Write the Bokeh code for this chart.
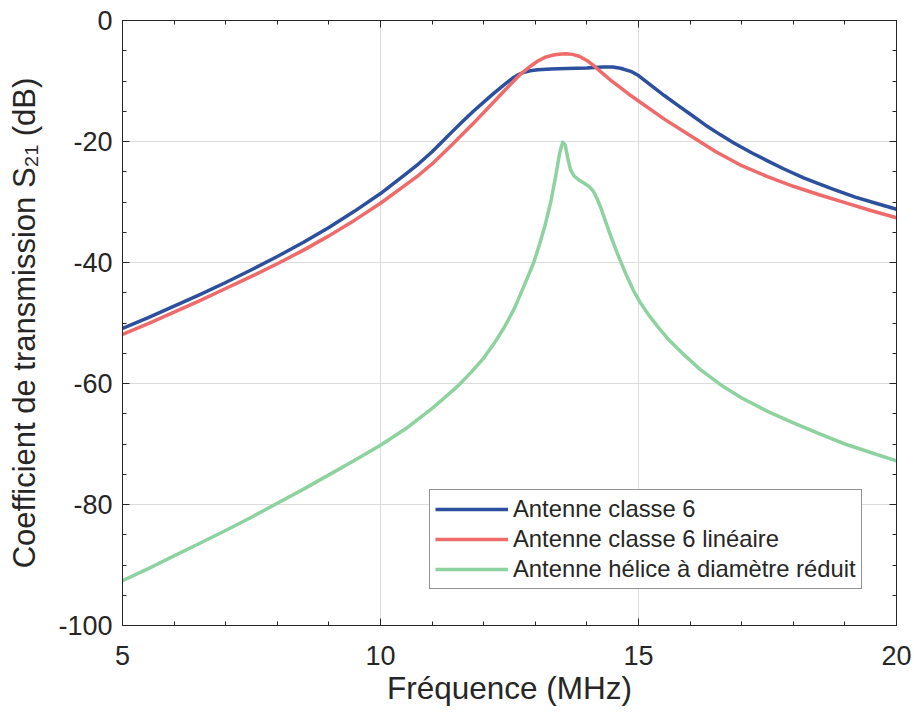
from bokeh.plotting import figure
from bokeh.models import (Range1d, FixedTicker, LinearAxis, Legend, LegendItem)
from bokeh.embed import file_html
from bokeh.resources import INLINE

# ---- data ----
x_blue = [5.0, 5.5, 6.0, 6.5, 7.0, 7.5, 8.0, 8.5, 9.0, 9.5, 10.0, 10.5, 10.75, 11.0,
          11.2, 11.41, 11.6, 11.8, 12.0, 12.2, 12.4, 12.55, 12.66, 12.78, 12.9, 13.05,
          13.3, 13.6, 14.0, 14.3, 14.5, 14.65, 14.85, 15.0, 15.15, 15.3, 15.5, 15.75,
          16.0, 16.3, 16.59, 16.84, 17.2, 17.5, 17.81, 18.2, 18.5, 18.78, 19.2, 19.6,
          20.0]
y_blue = [-50.9, -49.1, -47.2, -45.3, -43.3, -41.2, -39.0, -36.7, -34.2, -31.5, -28.6,
          -25.3, -23.6, -21.7, -20.0, -18.2, -16.6, -15.0, -13.5, -12.0, -10.6, -9.6,
          -9.0, -8.55, -8.3, -8.15, -8.0, -7.95, -7.85, -7.7, -7.7, -7.9, -8.4, -9.1,
          -10.1, -11.1, -12.4, -13.95, -15.45, -17.3, -18.9, -20.2, -21.9, -23.2, -24.5,
          -26.0, -27.0, -27.9, -29.2, -30.2, -31.2]

x_red = [5.0, 5.5, 6.0, 6.5, 7.0, 7.5, 8.0, 8.5, 9.0, 9.5, 10.0, 10.5, 10.75, 11.0,
         11.4, 11.8, 12.07, 12.4, 12.71, 12.9, 13.05, 13.2, 13.35, 13.5, 13.6, 13.72,
         13.85, 14.0, 14.15, 14.3, 14.45, 14.65, 14.85, 15.0, 15.5, 16.0, 16.5, 17.0,
         17.5, 18.0, 18.5, 19.0, 19.5, 20.0]
y_red = [-51.9, -50.1, -48.2, -46.3, -44.3, -42.3, -40.2, -38.0, -35.6, -33.0, -30.2,
         -27.1, -25.5, -23.7, -20.4, -17.0, -14.6, -11.6, -8.9, -7.6, -6.7, -6.05, -5.7,
         -5.52, -5.5, -5.6, -5.9, -6.6, -7.6, -8.7, -9.8, -11.1, -12.4, -13.3, -16.3,
         -19.0, -21.7, -24.0, -25.8, -27.4, -28.8, -30.1, -31.4, -32.6]

x_green = [5.0, 5.5, 6.0, 6.5, 7.0, 7.5, 8.0, 8.5, 9.0, 9.5, 10.0, 10.5, 11.0, 11.25,
           11.5, 11.75, 12.0, 12.2, 12.4, 12.6, 12.8, 12.97, 13.1, 13.2, 13.3, 13.4,
           13.47, 13.53, 13.58, 13.63, 13.68, 13.75, 13.85, 13.95, 14.05, 14.13, 14.2,
           14.28, 14.37, 14.47, 14.59, 14.75, 14.9, 15.04, 15.2, 15.4, 15.6, 15.9, 16.2,
           16.59, 17.0, 17.5, 18.0, 18.5, 19.0, 19.5, 20.0]
y_green = [-92.6, -90.6, -88.5, -86.4, -84.3, -82.1, -79.8, -77.5, -75.1, -72.7, -70.2,
           -67.4, -64.1, -62.3, -60.4, -58.2, -55.8, -53.4, -50.7, -47.5, -43.5, -40.0,
           -36.5, -33.5, -30.0, -25.5, -22.0, -20.1, -20.6, -22.8, -24.6, -25.7, -26.4,
           -26.9, -27.5, -28.3, -29.5, -31.2, -33.4, -35.8, -38.5, -41.8, -44.6, -46.7,
           -48.7, -50.9, -52.9, -55.4, -57.7, -60.2, -62.4, -64.6, -66.5, -68.3, -70.0,
           -71.4, -72.8]

series_names = ["Antenne classe 6", "Antenne classe 6 linéaire",
                "Antenne hélice à diamètre réduit"]
x_ticks = [5, 10, 15, 20]
x_minor = [6, 7, 8, 9, 11, 12, 13, 14, 16, 17, 18, 19]
y_ticks = [0, -20, -40, -60, -80, -100]
y_tick_labels = ["0", "-20", "-40", "-60", "-80", "-100"]
y_minor = [-5, -10, -15, -25, -30, -35, -45, -50, -55, -65, -70, -75, -85, -90, -95]

FONT = "Liberation Sans"
TXT = "#262626"
colors = ["#2c4f9e", "#ef6a6a", "#8ed2a0"]

p = figure(width=913, height=712, output_backend="svg", toolbar_location=None,
           x_range=Range1d(5, 20), y_range=Range1d(-100, 0),
           min_border_left=122, min_border_right=17, min_border_top=20,
           min_border_bottom=87)
p.background_fill_color = "white"
p.border_fill_color = "white"
p.outline_line_color = TXT
p.outline_line_width = 1

def style_axis(ax, ticks, minor, show_labels):
    ax.ticker = FixedTicker(ticks=ticks, minor_ticks=minor)
    ax.axis_line_color = TXT
    ax.major_tick_line_color = TXT
    ax.minor_tick_line_color = TXT
    ax.major_tick_in = 7
    ax.major_tick_out = 0
    ax.minor_tick_in = 4
    ax.minor_tick_out = 0
    if show_labels:
        ax.major_label_text_font = FONT
        ax.major_label_text_font_size = "27px"
        ax.major_label_text_color = TXT
    else:
        ax.major_label_overrides = {t: "" for t in ticks}
        ax.major_label_text_font_size = "0px"
        ax.major_label_standoff = 0

xa = p.xaxis[0]
ya = p.yaxis[0]
style_axis(xa, x_ticks, x_minor, True)
style_axis(ya, y_ticks, y_minor, True)
ya.major_label_overrides = dict(zip(y_ticks, y_tick_labels))
xa.major_label_standoff = 20
ya.major_label_standoff = 10
xa.axis_label = "Fréquence (MHz)"
ya.axis_label = "Coefficient de transmission S₂₁ (dB)"
for ax in (xa, ya):
    ax.axis_label_text_font = FONT
    ax.axis_label_text_font_style = "normal"
    ax.axis_label_text_color = TXT
xa.axis_label_text_font_size = "31.5px"
ya.axis_label_text_font_size = "31px"
xa.axis_label_standoff = 2
ya.axis_label_standoff = 13

top = LinearAxis()
right = LinearAxis()
style_axis(top, x_ticks, x_minor, False)
style_axis(right, y_ticks, y_minor, False)
p.add_layout(top, "above")
p.add_layout(right, "right")

p.xgrid.ticker = FixedTicker(ticks=x_ticks)
p.ygrid.ticker = FixedTicker(ticks=y_ticks)
p.xgrid.grid_line_color = "#dcdcdc"
p.ygrid.grid_line_color = "#dcdcdc"

r1 = p.line(x_blue, y_blue, line_color=colors[0], line_width=3.5, line_join="round")
r2 = p.line(x_red, y_red, line_color=colors[1], line_width=3.5, line_join="round")
r3 = p.line(x_green, y_green, line_color=colors[2], line_width=3.5, line_join="round")

legend = Legend(items=[LegendItem(label=series_names[0], renderers=[r1]),
                       LegendItem(label=series_names[1], renderers=[r2]),
                       LegendItem(label=series_names[2], renderers=[r3])],
                location=(307, 36))
legend.label_text_font = FONT
legend.label_text_font_size = "23.8px"
legend.label_text_color = TXT
legend.glyph_width = 73
legend.glyph_height = 24
legend.label_height = 24
legend.spacing = 2
legend.padding = 5
legend.margin = 0
legend.label_standoff = 5
legend.border_line_color = TXT
legend.border_line_width = 1
legend.background_fill_alpha = 1
p.add_layout(legend, "center")

open("out.html", "w").write(file_html(p, INLINE))
